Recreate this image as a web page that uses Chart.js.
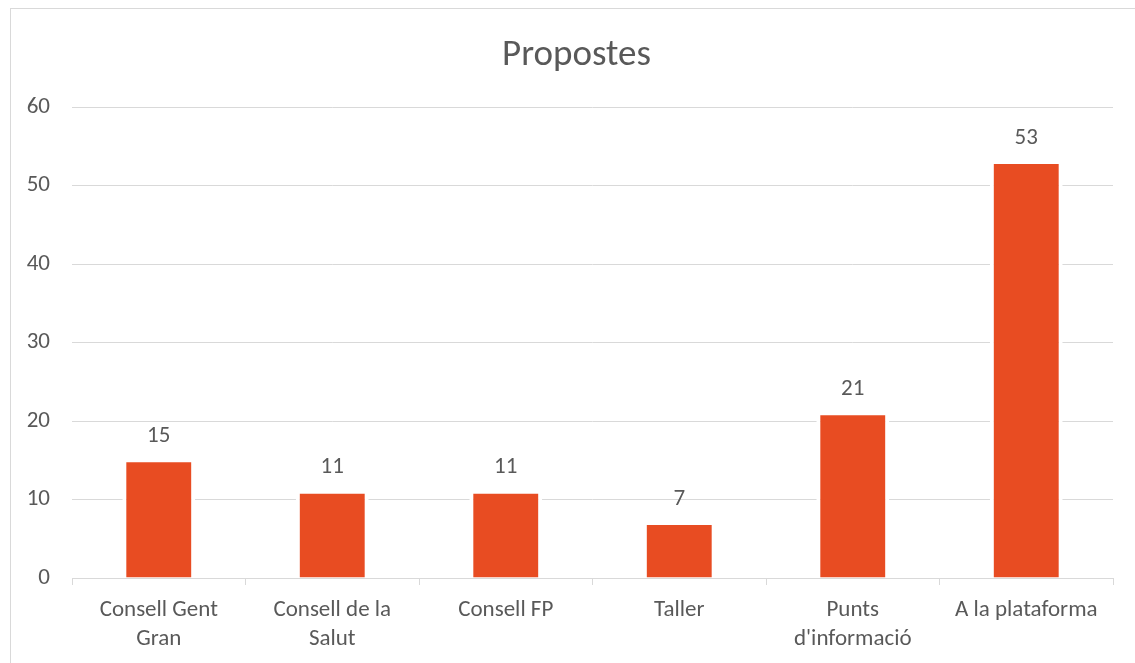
<!DOCTYPE html>
<html><head><meta charset="utf-8">
<script src="https://cdn.jsdelivr.net/npm/chart.js@4/dist/chart.umd.min.js"></script>
<style>html,body{margin:0;padding:0;background:#fff;}#wrap{width:1135px;height:663px;position:relative;}</style>
</head><body><div id="wrap"><canvas id="c" width="1135" height="663"></canvas></div>
<script>
const categories = [["Consell Gent","Gran"],["Consell de la","Salut"],"Consell FP","Taller",["Punts","d'informació"],"A la plataforma"];
const values = [15, 11, 11, 7, 21, 53];
const yTicks = [0, 10, 20, 30, 40, 50, 60];
const title = "Propostes";
const FONT = "Carlito, Calibri, Lato, 'Open Sans', sans-serif";
const TXT = "#595959";

const framePlugin = {
  id: 'frame',
  afterLayout(chart) {
    if (chart.titleBlock) { chart.titleBlock.left = 40; }
  },
  beforeDraw(chart) {
    const ctx = chart.ctx;
    ctx.save();
    ctx.strokeStyle = '#d9d9d9';
    ctx.lineWidth = 1;
    ctx.strokeRect(10.5, 8.5, 1140, 700);
    ctx.restore();
  }
};
const labelPlugin = {
  id: 'vals',
  afterDatasetsDraw(chart) {
    const ctx = chart.ctx;
    const meta = chart.getDatasetMeta(0);
    ctx.save();
    ctx.fillStyle = TXT;
    ctx.font = "23px " + FONT;
    ctx.textAlign = 'center';
    ctx.textBaseline = 'middle';
    meta.data.forEach((bar, i) => {
      ctx.fillText(String(values[i]), bar.x, bar.y - 24);
    });
    ctx.restore();
  }
};

new Chart(document.getElementById('c'), {
  type: 'bar',
  data: {
    labels: categories,
    datasets: [{
      data: values,
      backgroundColor: '#E84C22',
      borderColor: '#ffffff',
      borderWidth: {left: 4, right: 4, top: 2, bottom: 0},
      borderSkipped: false,
      barPercentage: 0.42,
      categoryPercentage: 1.0
    }]
  },
  options: {
    responsive: false,
    animation: false,
    devicePixelRatio: 1,
    layout: {padding: {left: 10, right: 22, top: 0, bottom: 0}},
    plugins: {
      legend: {display: false},
      tooltip: {enabled: false},
      title: {
        display: true, text: title, color: TXT,
        font: {family: FONT, size: 37, weight: 'normal', lineHeight: 1.2},
        padding: {top: 34, bottom: 28.6}
      }
    },
    scales: {
      x: {
        grid: {offset: true, drawOnChartArea: false, drawTicks: true, tickLength: 7, color: '#d9d9d9'},
        border: {display: true, color: '#d9d9d9', width: 1},
        ticks: {color: TXT, font: {family: FONT, size: 23, lineHeight: 1.26}, padding: 11, maxRotation: 0, autoSkip: false},
        afterFit(s) { s.height = 85; }
      },
      y: {
        min: 0, max: 60,
        afterBuildTicks(s) { s.ticks = yTicks.map(v => ({value: v})); },
        grid: {color: '#d9d9d9', lineWidth: 1, drawTicks: false},
        border: {display: false},
        ticks: {color: TXT, font: {family: FONT, size: 23}, padding: 22},
        afterFit(s) { s.width = 62; }
      }
    }
  },
  plugins: [framePlugin, labelPlugin]
});
</script></body></html>
